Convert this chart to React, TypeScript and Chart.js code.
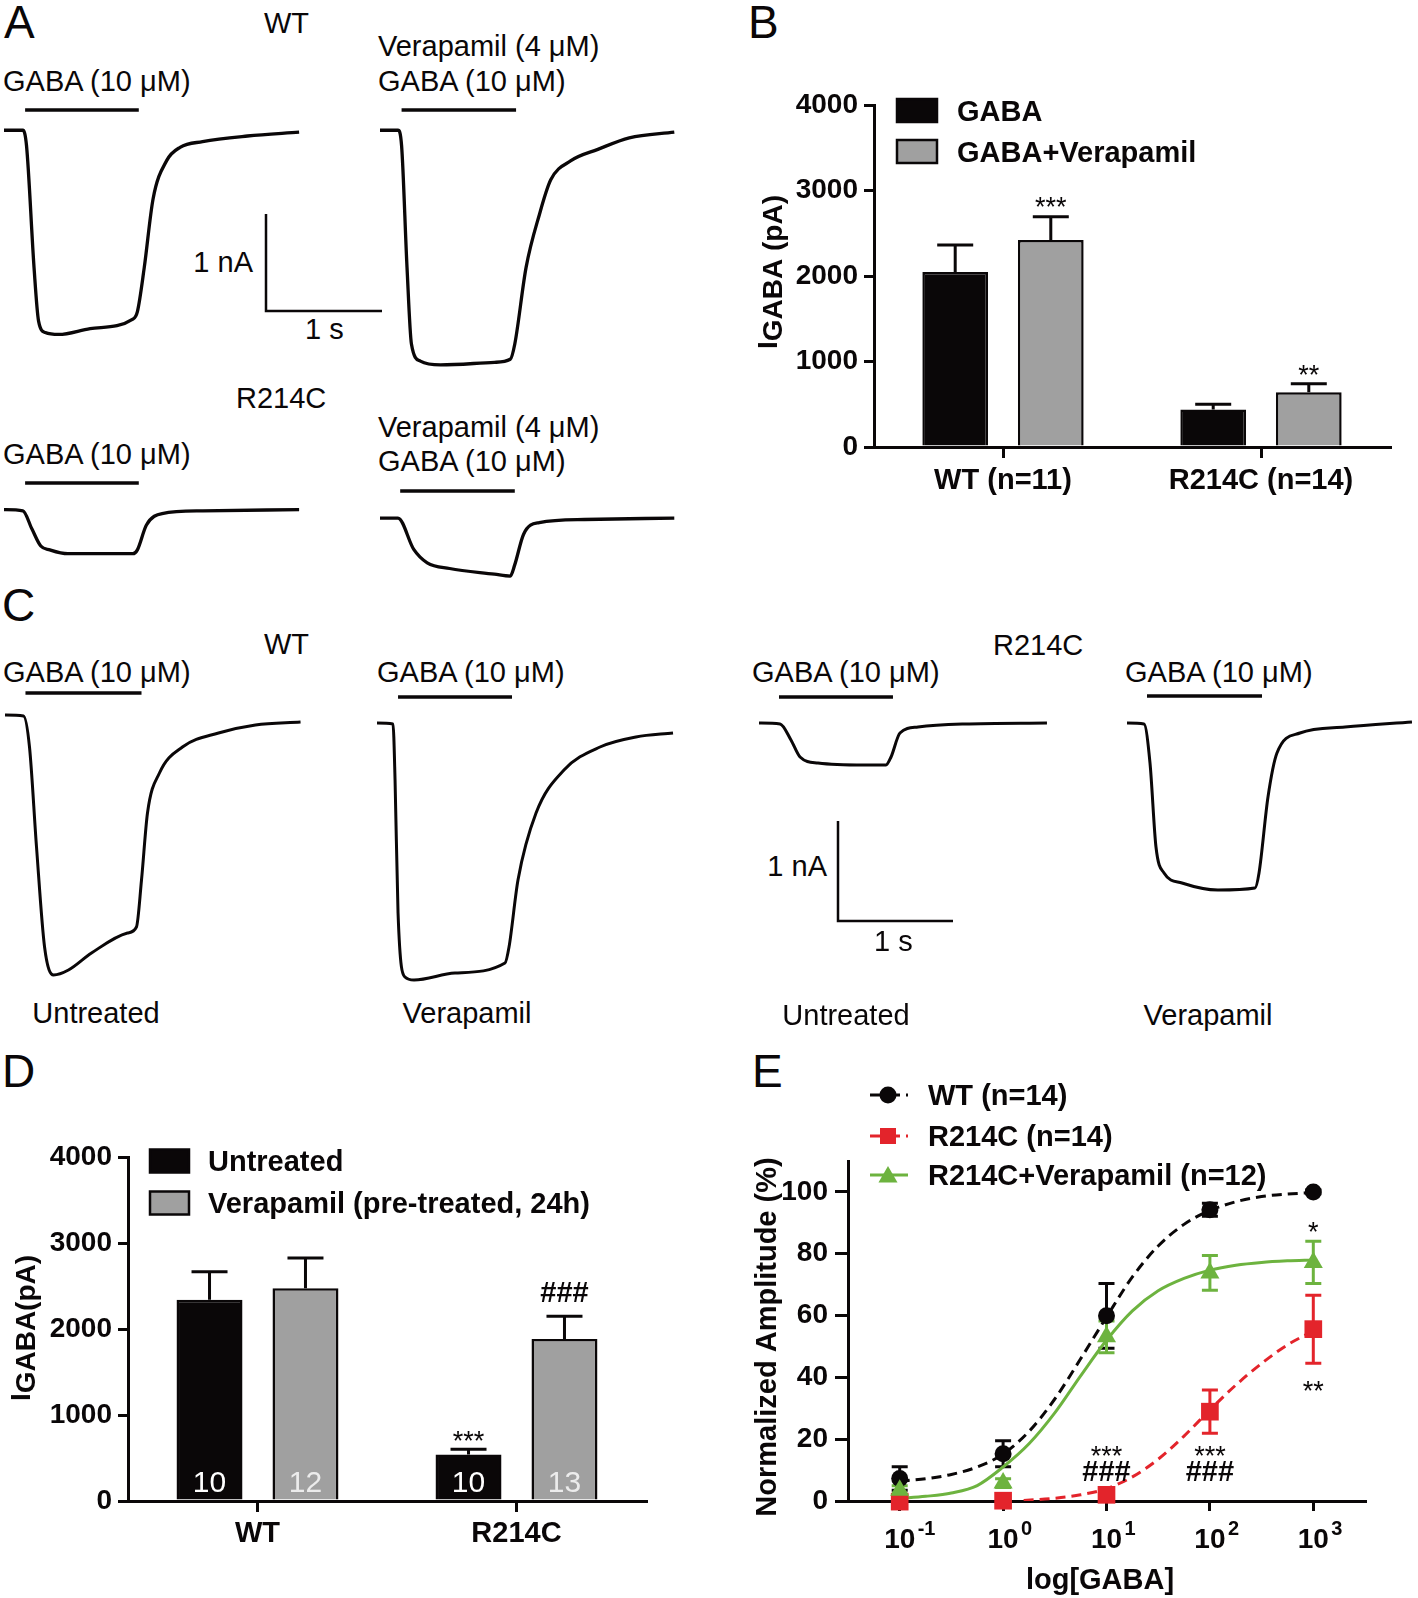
import React, { useEffect, useRef } from 'react';
import { Chart, registerables } from 'chart.js';

Chart.register(...registerables);

const FONT = "'Liberation Sans', Arial, Helvetica, sans-serif";
const INK = '#0a0708';
const GREY = '#a0a0a0';
const RED = '#e3242b';
const GREEN = '#6db33f';

// ================= Panels A / C: current traces (time in s, current in nA re. baseline) =================
const traceA1Time = [0, 0.163, 0.194, 0.259, 0.298, 0.356, 0.472, 0.743, 1.111, 1.15, 1.209, 1.285, 1.402, 1.518, 1.712, 2.099, 2.544];
const traceA1Current = [0, 0, -0.157, -1.416, -1.967, -2.085, -2.105, -2.045, -1.947, -1.869, -1.416, -0.708, -0.313, -0.176, -0.117, -0.059, -0.019];
const stimA1 = [0.182, 1.162];

const traceA2Time = [0, 0.155, 0.186, 0.233, 0.271, 0.348, 0.522, 0.988, 1.123, 1.162, 1.259, 1.375, 1.472, 1.646, 1.878, 2.149, 2.537];
const traceA2Current = [0, 0, -0.157, -1.416, -2.203, -2.38, -2.419, -2.392, -2.361, -2.203, -1.416, -0.865, -0.511, -0.314, -0.197, -0.078, -0.019];
const stimA2 = [0.186, 1.173];

const traceA3Time = [0, 0.163, 0.24, 0.317, 0.395, 0.55, 1.111, 1.15, 1.228, 1.363, 1.712, 2.544];
const traceA3Current = [0, -0.012, -0.197, -0.375, -0.414, -0.454, -0.454, -0.414, -0.158, -0.04, -0.012, 0];
const stimA3 = [0.182, 1.162];

const traceA4Time = [0, 0.155, 0.291, 0.407, 0.6, 0.986, 1.123, 1.162, 1.238, 1.373, 1.762, 2.537];
const traceA4Current = [0, 0, -0.323, -0.461, -0.52, -0.578, -0.598, -0.48, -0.166, -0.047, -0.015, 0];
const stimA4 = [0.174, 1.162];

const traceC1Time = [0, 0.161, 0.213, 0.274, 0.344, 0.422, 0.552, 0.752, 1.065, 1.143, 1.187, 1.239, 1.343, 1.543, 1.857, 2.178, 2.57];
const traceC1Current = [0, -0.01, -0.32, -1.32, -2.32, -2.6, -2.55, -2.38, -2.18, -2.12, -1.65, -0.98, -0.58, -0.32, -0.18, -0.1, -0.07];
const stimC1 = [0.178, 1.187];

const traceC2Time = [0, 0.139, 0.157, 0.183, 0.243, 0.322, 0.678, 1.113, 1.148, 1.226, 1.383, 1.626, 1.939, 2.252, 2.574];
const traceC2Current = [0, -0.01, -0.57, -1.9, -2.54, -2.57, -2.5, -2.4, -2.24, -1.57, -0.9, -0.47, -0.24, -0.14, -0.1];
const stimC2 = [0.183, 1.174];

const traceC3Time = [0, 0.183, 0.278, 0.357, 0.513, 0.913, 1.104, 1.148, 1.226, 1.383, 1.783, 2.504];
const traceC3Current = [0, -0.01, -0.17, -0.34, -0.4, -0.42, -0.42, -0.34, -0.1, -0.04, -0.01, 0];
const stimC3 = [0.174, 1.165];

const traceC4Time = [0, 0.148, 0.2, 0.252, 0.322, 0.478, 0.791, 1.113, 1.148, 1.226, 1.304, 1.504, 1.896, 2.478];
const traceC4Current = [0, -0.01, -0.4, -1.24, -1.5, -1.6, -1.67, -1.65, -1.5, -0.74, -0.3, -0.1, -0.04, 0.01];
const stimC4 = [0.174, 1.174];

// scale bar: 1 nA vertical, 1 s horizontal
const scaleBarTime = [0, 0, 1];
const scaleBarCurrent = [1, 0, 0];

// ================= Panel B =================
const groupsB = ['WT (n=11)', 'R214C (n=14)'];
const gabaB = [2047, 440];
const gabaErrB = [315, 60];
const gabaVeraB = [2420, 640];
const gabaVeraErrB = [272, 100];
const signifB = ['***', '**'];
const signifLevelB = [2890, 922];
const yTicksBar = [0, 1000, 2000, 3000, 4000];

// ================= Panel D =================
const groupsD = ['WT', 'R214C'];
const untreatedD = [2340, 542];
const untreatedErrD = [325, 59];
const pretreatedD = [2474, 1883];
const pretreatedErrD = [352, 266];
const nUntreatedD = ['10', '10'];
const nPretreatedD = ['12', '13'];
const signifUntreatedD = ['', '***'];
const signifUntreatedLevelD = [0, 784];
const signifPretreatedD = ['', '###'];
const signifPretreatedLevelD = [0, 2433];

// ================= Panel E =================
const gabaConc = [0.1, 1, 10, 100, 1000];
const wtMean = [7.3, 15.3, 59.9, 94.2, 100];
const wtSem = [3.8, 4.2, 10.5, 2.1, 0.6];
const r214cMean = [-0.2, 0.1, 2.0, 28.9, 55.6];
const r214cSem = [0.4, 0.4, 0.8, 7.0, 11];
const veraMean = [3.5, 5.8, 53.1, 73.8, 77.2];
const veraSem = [1.4, 1.4, 5.1, 5.6, 6.8];

const fitConcWT = [0.1, 0.178, 0.316, 0.562, 1, 1.78, 3.16, 5.62, 10, 17.8, 31.6, 56.2, 100, 178, 316, 562, 1000];
const fitWT = [6.4, 7.2, 8.6, 11, 15.2, 22.5, 33, 46, 59.5, 72.5, 82.5, 89.5, 94, 96.8, 98.5, 99.3, 99.8];
const fitConcVera = [0.1, 0.178, 0.316, 0.562, 1, 1.78, 3.16, 5.62, 10, 17.8, 31.6, 56.2, 100, 178, 316, 562, 1000];
const fitVera = [0.8, 1.5, 2.6, 5, 11, 18.5, 28.5, 40.5, 52, 61.5, 68, 72, 74.7, 76.3, 77.2, 77.7, 78];
const fitConcR214C = [1.58, 3.16, 5.62, 10, 17.8, 31.6, 56.2, 100, 178, 316, 562, 1000];
const fitR214C = [0.2, 0.9, 2, 4, 7.8, 13.5, 21, 29.5, 37.5, 44.5, 50.5, 55];

const yTicksE = [0, 20, 40, 60, 80, 100];
const signifTextE = ['*', '**', '***', '###', '***', '###'];
const signifConcE = [1000, 1000, 10, 10, 100, 100];
const signifLevelE = [89.2, 37.8, 16.8, 9.8, 16.8, 9.8];

// ================= helpers =================
function drawText(ctx: any, s: string, x: number, y: number, size: number, weight: string, align: string, color: string) {
  ctx.save();
  ctx.font = `${weight} ${size}px ${FONT}`;
  ctx.fillStyle = color;
  ctx.textAlign = align;
  ctx.textBaseline = 'alphabetic';
  ctx.fillText(s, x, y);
  ctx.restore();
}

function drawMark(ctx: any, s: string, x: number, yCenter: number) {
  const hash = s.startsWith('#');
  const size = hash ? 29 : 27;
  const base = hash ? yCenter + 0.36 * size : yCenter + 0.6 * size;
  drawText(ctx, s, x, base, size, hash ? 'bold' : 'normal', 'center', INK);
}

function drawRotatedTitle(ctx: any, cx: number, cy: number, parts: [string, number][], size: number) {
  ctx.save();
  ctx.translate(cx, cy);
  ctx.rotate(-Math.PI / 2);
  ctx.font = `bold ${size}px ${FONT}`;
  ctx.fillStyle = INK;
  ctx.textAlign = 'left';
  ctx.textBaseline = 'alphabetic';
  const widths = parts.map((p) => ctx.measureText(p[0]).width);
  const total = widths.reduce((a, b) => a + b, 0);
  let x = -total / 2;
  parts.forEach((p, k) => {
    ctx.fillText(p[0], x, p[1]);
    x += widths[k];
  });
  ctx.restore();
}

function drawMarker(ctx: any, style: string, x: number, y: number, r: number, color: string) {
  ctx.save();
  ctx.fillStyle = color;
  ctx.beginPath();
  if (style === 'circle') {
    ctx.arc(x, y, r, 0, Math.PI * 2);
  } else if (style === 'rect') {
    const h = r * Math.SQRT1_2;
    ctx.rect(x - h, y - h, 2 * h, 2 * h);
  } else {
    ctx.moveTo(x, y - r);
    ctx.lineTo(x + 0.866 * r, y + 0.5 * r);
    ctx.lineTo(x - 0.866 * r, y + 0.5 * r);
    ctx.closePath();
  }
  ctx.fill();
  ctx.restore();
}

function Label({ x, y, s = 29, w = 400, a = 'left', children }: any) {
  const style: any = {
    position: 'absolute',
    left: x,
    top: y - 0.8465 * s,
    fontFamily: FONT,
    fontSize: s,
    fontWeight: w,
    lineHeight: `${s}px`,
    whiteSpace: 'nowrap',
    color: INK,
    transform: a === 'center' ? 'translateX(-50%)' : a === 'right' ? 'translateX(-100%)' : undefined,
  };
  return <div style={style}>{children}</div>;
}

// ================= trace chart =================
function TraceChart({ time, current, stim, stimLevel = 0, x0, y0, pxS, pxNA, lw = 3.3, smooth = true }: any) {
  const ref = useRef<HTMLCanvasElement>(null);
  const pad = 8;
  const tMax = Math.max(...time);
  const iMin = Math.min(...current, 0);
  const iMax = Math.max(...current, stim ? stimLevel : 0, 0);
  const w = Math.ceil(tMax * pxS + 2 * pad);
  const h = Math.ceil((iMax - iMin) * pxNA + 2 * pad);
  const left = x0 - pad;
  const top = y0 - iMax * pxNA - pad;
  useEffect(() => {
    const datasets: any[] = [
      {
        data: time.map((t: number, k: number) => ({ x: t, y: current[k] })),
        borderColor: INK,
        borderWidth: lw,
        pointRadius: 0,
        cubicInterpolationMode: smooth ? 'monotone' : 'default',
        tension: 0,
        borderJoinStyle: 'miter',
        fill: false,
      },
    ];
    if (stim) {
      datasets.push({
        data: [{ x: stim[0], y: stimLevel }, { x: stim[1], y: stimLevel }],
        borderColor: INK,
        borderWidth: 3.6,
        pointRadius: 0,
        fill: false,
      });
    }
    const xMin = -pad / pxS;
    const yMax = iMax + pad / pxNA;
    const chart = new Chart(ref.current as any, {
      type: 'line',
      data: { datasets },
      options: {
        responsive: false,
        animation: false,
        devicePixelRatio: 1,
        layout: { padding: 0 },
        plugins: { legend: { display: false }, tooltip: { enabled: false } },
        scales: {
          x: { type: 'linear', display: false, min: xMin, max: xMin + w / pxS },
          y: { type: 'linear', display: false, min: yMax - h / pxNA, max: yMax },
        },
      } as any,
    });
    return () => chart.destroy();
  }, []);
  return <canvas ref={ref} width={w} height={h} style={{ position: 'absolute', left, top, width: w, height: h }} />;
}

// ================= bar chart builder =================
function BarChart({ cfg }: any) {
  const ref = useRef<HTMLCanvasElement>(null);
  useEffect(() => {
    const decor = {
      id: 'decor',
      afterDatasetsDraw(chart: any) {
        const ctx = chart.ctx;
        const y = chart.scales.y;
        cfg.series.forEach((s: any, di: number) => {
          const meta = chart.getDatasetMeta(di);
          meta.data.forEach((bar: any, i: number) => {
            const yTop = y.getPixelForValue(s.data[i]);
            const yErr = y.getPixelForValue(s.data[i] + s.err[i]);
            ctx.save();
            ctx.strokeStyle = INK;
            ctx.lineWidth = 3;
            ctx.beginPath();
            ctx.moveTo(bar.x, yTop);
            ctx.lineTo(bar.x, yErr);
            ctx.moveTo(bar.x - 18, yErr);
            ctx.lineTo(bar.x + 18, yErr);
            ctx.stroke();
            ctx.restore();
            if (s.signif && s.signif[i]) drawMark(ctx, s.signif[i], bar.x, y.getPixelForValue(s.signifLevel[i]));
            if (s.inner && s.inner[i]) {
              const yc = y.getPixelForValue(cfg.innerLevel);
              drawText(ctx, s.inner[i], bar.x, yc + 0.358 * 30, 30, 'normal', 'center', s.innerColor);
            }
          });
        });
        const lg = cfg.legend;
        cfg.series.forEach((s: any, k: number) => {
          const cy = lg.rows[k];
          ctx.save();
          ctx.fillStyle = s.color;
          ctx.fillRect(lg.boxX, cy - lg.boxH / 2, lg.boxW, lg.boxH);
          ctx.strokeStyle = INK;
          ctx.lineWidth = 2.5;
          ctx.strokeRect(lg.boxX, cy - lg.boxH / 2, lg.boxW, lg.boxH);
          ctx.restore();
          drawText(ctx, s.label, lg.textX, cy + 0.358 * 29, 29, 'bold', 'left', INK);
        });
        drawRotatedTitle(ctx, cfg.title.x, cfg.title.y, cfg.title.parts, 28);
      },
    };
    const chart = new Chart(ref.current as any, {
      type: 'bar',
      data: {
        labels: cfg.labels,
        datasets: cfg.series.map((s: any) => ({
          label: s.label,
          data: s.data,
          backgroundColor: s.color,
          borderColor: INK,
          borderWidth: 2.5,
          borderSkipped: 'start',
          categoryPercentage: 0.741,
          barPercentage: 0.6875,
        })),
      },
      options: {
        responsive: false,
        animation: false,
        devicePixelRatio: 1,
        layout: { padding: cfg.padding },
        plugins: { legend: { display: false }, tooltip: { enabled: false }, title: { display: false } },
        scales: {
          x: {
            z: 1,
            grid: { offset: false, drawOnChartArea: false, drawTicks: true, tickLength: 11, color: INK, lineWidth: 3 },
            border: { color: INK, width: 3 },
            ticks: { color: INK, font: { family: FONT, size: 29, weight: 'bold' }, padding: cfg.xPad, maxRotation: 0, autoSkip: false },
            afterFit: (s: any) => { s.height = cfg.xHeight; },
          },
          y: {
            z: 1,
            min: 0,
            max: 4000,
            afterBuildTicks: (s: any) => { s.ticks = yTicksBar.map((v) => ({ value: v })); },
            grid: { drawOnChartArea: false, drawTicks: true, tickLength: 10, color: INK, lineWidth: 3 },
            border: { color: INK, width: 3 },
            ticks: { color: INK, font: { family: FONT, size: 28, weight: 'bold' }, padding: 6, callback: (v: any) => String(v) },
            afterFit: (s: any) => { s.width = cfg.yWidth; },
          },
        },
      } as any,
      plugins: [decor],
    });
    return () => chart.destroy();
  }, []);
  return (
    <canvas ref={ref} width={cfg.w} height={cfg.h}
      style={{ position: 'absolute', left: cfg.left, top: cfg.top, width: cfg.w, height: cfg.h }} />
  );
}

const cfgB = {
  left: 720, top: 0, w: 698, h: 530,
  padding: { left: 0, right: 28, top: 105, bottom: 0 },
  yWidth: 154, xHeight: 83, xPad: 6,
  labels: groupsB,
  series: [
    { label: 'GABA', data: gabaB, err: gabaErrB, color: INK },
    { label: 'GABA+Verapamil', data: gabaVeraB, err: gabaVeraErrB, color: GREY, signif: signifB, signifLevel: signifLevelB },
  ],
  legend: { boxX: 177, boxW: 40, boxH: 23, textX: 237, rows: [110.5, 151.5] },
  title: { x: 62, y: 272, parts: [['I', -5], ['GABA (pA)', 0]] },
  innerLevel: 0,
};

const cfgD = {
  left: 0, top: 1040, w: 700, h: 558,
  padding: { left: 0, right: 54, top: 117, bottom: 0 },
  yWidth: 128, xHeight: 97, xPad: 5,
  labels: groupsD,
  series: [
    { label: 'Untreated', data: untreatedD, err: untreatedErrD, color: INK, inner: nUntreatedD, innerColor: '#ffffff', signif: signifUntreatedD, signifLevel: signifUntreatedLevelD },
    { label: 'Verapamil (pre-treated, 24h)', data: pretreatedD, err: pretreatedErrD, color: GREY, inner: nPretreatedD, innerColor: '#ececec', signif: signifPretreatedD, signifLevel: signifPretreatedLevelD },
  ],
  legend: { boxX: 150, boxW: 39, boxH: 23, textX: 208, rows: [121, 163] },
  title: { x: 35, y: 288, parts: [['I', -5], ['GABA(pA)', 0]] },
  innerLevel: 233,
};

// ================= dose-response chart =================
function DoseResponse() {
  const ref = useRef<HTMLCanvasElement>(null);
  useEffect(() => {
    const series = [
      { label: 'WT (n=14)', mean: wtMean, sem: wtSem, color: INK, style: 'circle', r: 8.5, dash: [10, 6] },
      { label: 'R214C (n=14)', mean: r214cMean, sem: r214cSem, color: RED, style: 'rect', r: 12.5, dash: [10, 6] },
      { label: 'R214C+Verapamil (n=12)', mean: veraMean, sem: veraSem, color: GREEN, style: 'triangle', r: 11, dash: [] },
    ];
    const decor = {
      id: 'decorE',
      beforeDatasetsDraw(chart: any) {
        const ctx = chart.ctx;
        const xs = chart.scales.x;
        const ys = chart.scales.y;
        series.forEach((s) => {
          gabaConc.forEach((c, i) => {
            const px = xs.getPixelForValue(c);
            const hi = ys.getPixelForValue(s.mean[i] + s.sem[i]);
            const lo = ys.getPixelForValue(s.mean[i] - s.sem[i]);
            ctx.save();
            ctx.strokeStyle = s.color;
            ctx.lineWidth = 3;
            ctx.beginPath();
            ctx.moveTo(px, hi);
            ctx.lineTo(px, lo);
            ctx.moveTo(px - 8, hi);
            ctx.lineTo(px + 8, hi);
            ctx.moveTo(px - 8, lo);
            ctx.lineTo(px + 8, lo);
            ctx.stroke();
            ctx.restore();
          });
        });
      },
      afterDraw(chart: any) {
        const ctx = chart.ctx;
        const xs = chart.scales.x;
        const ys = chart.scales.y;
        // x tick labels 10^n
        gabaConc.forEach((c) => {
          const px = xs.getPixelForValue(c);
          drawText(ctx, '10', px, 508, 28, 'bold', 'center', INK);
          drawText(ctx, String(Math.round(Math.log10(c))), px + 18, 495, 20, 'bold', 'left', INK);
        });
        drawText(ctx, 'log[GABA]', 400, 549, 29, 'bold', 'center', INK);
        drawRotatedTitle(ctx, 76, 297, [['Normalized Amplitude (%)', 0]], 29);
        // legend
        const rows = [55, 96, 135];
        series.forEach((s, k) => {
          const cy = rows[k];
          ctx.save();
          ctx.strokeStyle = s.color;
          ctx.lineWidth = 3;
          ctx.setLineDash(s.dash.length ? [12, 6] : []);
          ctx.beginPath();
          ctx.moveTo(170, cy);
          ctx.lineTo(208, cy);
          ctx.stroke();
          ctx.restore();
          drawMarker(ctx, s.style, 188, cy + (s.style === 'triangle' ? 2 : 0), s.style === 'rect' ? 11.3 : s.r, s.color);
          drawText(ctx, s.label, 228, cy + 0.358 * 29, 29, 'bold', 'left', INK);
        });
        // significance marks
        signifTextE.forEach((t, i) => {
          drawMark(ctx, t, xs.getPixelForValue(signifConcE[i]), ys.getPixelForValue(signifLevelE[i]));
        });
      },
    };
    const pts = (xv: number[], yv: number[]) => xv.map((x, i) => ({ x, y: yv[i] }));
    const chart = new Chart(ref.current as any, {
      type: 'line',
      data: {
        datasets: [
          { label: 'WT fit', data: pts(fitConcWT, fitWT), borderColor: INK, borderWidth: 3, borderDash: [10, 6], pointRadius: 0, cubicInterpolationMode: 'monotone', order: 5 },
          { label: 'R214C fit', data: pts(fitConcR214C, fitR214C), borderColor: RED, borderWidth: 3, borderDash: [10, 6], pointRadius: 0, cubicInterpolationMode: 'monotone', order: 4 },
          { label: 'R214C+Verapamil fit', data: pts(fitConcVera, fitVera), borderColor: GREEN, borderWidth: 3, pointRadius: 0, cubicInterpolationMode: 'monotone', order: 3 },
          { label: series[0].label, data: pts(gabaConc, wtMean), showLine: false, pointStyle: 'circle', pointRadius: 8.5, pointBackgroundColor: INK, pointBorderWidth: 0, clip: false, order: 2 },
          { label: series[1].label, data: pts(gabaConc, r214cMean), showLine: false, pointStyle: 'rect', pointRadius: 12.5, pointBackgroundColor: RED, pointBorderWidth: 0, clip: false, order: 1 },
          { label: series[2].label, data: pts(gabaConc, veraMean), showLine: false, pointStyle: 'triangle', pointRadius: 11, pointBackgroundColor: GREEN, pointBorderWidth: 0, clip: false, order: 0 },
        ],
      },
      options: {
        responsive: false,
        animation: false,
        devicePixelRatio: 1,
        layout: { padding: { left: 0, right: 53, top: 121, bottom: 0 } },
        plugins: { legend: { display: false }, tooltip: { enabled: false } },
        scales: {
          x: {
            type: 'logarithmic',
            min: Math.pow(10, -1.5),
            max: Math.pow(10, 3.5),
            afterBuildTicks: (s: any) => { s.ticks = gabaConc.map((v) => ({ value: v })); },
            grid: { drawOnChartArea: false, drawTicks: true, tickLength: 10, color: INK, lineWidth: 3 },
            border: { color: INK, width: 3 },
            ticks: { display: false },
            afterFit: (s: any) => { s.height = 97; },
          },
          y: {
            type: 'linear',
            min: 0,
            max: 110,
            afterBuildTicks: (s: any) => { s.ticks = yTicksE.map((v) => ({ value: v })); },
            grid: { drawOnChartArea: false, drawTicks: true, tickLength: 13, color: INK, lineWidth: 3 },
            border: { color: INK, width: 3 },
            ticks: { color: INK, font: { family: FONT, size: 28, weight: 'bold' }, padding: 7, callback: (v: any) => String(v) },
            afterFit: (s: any) => { s.width = 148; },
          },
        },
      } as any,
      plugins: [decor],
    });
    return () => chart.destroy();
  }, []);
  return <canvas ref={ref} width={718} height={558} style={{ position: 'absolute', left: 700, top: 1040, width: 718, height: 558 }} />;
}

export default function App() {
  return (
    <div style={{ position: 'absolute', left: 0, top: 0, width: 1418, height: 1598, background: '#fff', overflow: 'hidden' }}>
      {/* ---------- Panel A ---------- */}
      <Label x={4} y={38} s={46}>A</Label>
      <Label x={264} y={34}>WT</Label>
      <Label x={3} y={92}>GABA (10 μM)</Label>
      <Label x={378} y={57}>Verapamil (4 μM)</Label>
      <Label x={378} y={92}>GABA (10 μM)</Label>
      <Label x={253} y={273} a="right">1 nA</Label>
      <Label x={305} y={340}>1 s</Label>
      <Label x={236} y={409}>R214C</Label>
      <Label x={3} y={465}>GABA (10 μM)</Label>
      <Label x={378} y={438}>Verapamil (4 μM)</Label>
      <Label x={378} y={472}>GABA (10 μM)</Label>
      <TraceChart time={traceA1Time} current={traceA1Current} stim={stimA1} stimLevel={0.209} x0={3.6} y0={129.8} pxS={116} pxNA={97} />
      <TraceChart time={traceA2Time} current={traceA2Current} stim={stimA2} stimLevel={0.209} x0={379.6} y0={129.8} pxS={116} pxNA={97} />
      <TraceChart time={traceA3Time} current={traceA3Current} stim={stimA3} stimLevel={0.275} x0={3.6} y0={509.5} pxS={116} pxNA={97} />
      <TraceChart time={traceA4Time} current={traceA4Current} stim={stimA4} stimLevel={0.279} x0={379.6} y0={518.3} pxS={116} pxNA={97} />
      <TraceChart time={scaleBarTime} current={scaleBarCurrent} x0={266.4} y0={311} pxS={116} pxNA={97} lw={2.5} smooth={false} />

      {/* ---------- Panel B ---------- */}
      <Label x={748} y={38} s={46}>B</Label>
      <BarChart cfg={cfgB} />

      {/* ---------- Panel C ---------- */}
      <Label x={2} y={621} s={46}>C</Label>
      <Label x={264} y={655}>WT</Label>
      <Label x={993} y={656}>R214C</Label>
      <Label x={3} y={683}>GABA (10 μM)</Label>
      <Label x={377} y={683}>GABA (10 μM)</Label>
      <Label x={752} y={683}>GABA (10 μM)</Label>
      <Label x={1125} y={683}>GABA (10 μM)</Label>
      <TraceChart time={traceC1Time} current={traceC1Current} stim={stimC1} stimLevel={0.22} x0={4.5} y0={715} pxS={115} pxNA={100} lw={3} />
      <TraceChart time={traceC2Time} current={traceC2Current} stim={stimC2} stimLevel={0.26} x0={377} y0={723} pxS={115} pxNA={100} lw={3} />
      <TraceChart time={traceC3Time} current={traceC3Current} stim={stimC3} stimLevel={0.26} x0={759} y0={723} pxS={115} pxNA={100} lw={3} />
      <TraceChart time={traceC4Time} current={traceC4Current} stim={stimC4} stimLevel={0.27} x0={1127} y0={723} pxS={115} pxNA={100} lw={3} />
      <TraceChart time={scaleBarTime} current={scaleBarCurrent} x0={838.2} y0={920.7} pxS={115} pxNA={100} lw={2.5} smooth={false} />
      <Label x={827} y={877} a="right">1 nA</Label>
      <Label x={874} y={952}>1 s</Label>
      <Label x={96} y={1024} a="center">Untreated</Label>
      <Label x={467} y={1024} a="center">Verapamil</Label>
      <Label x={846} y={1026} a="center">Untreated</Label>
      <Label x={1208} y={1026} a="center">Verapamil</Label>

      {/* ---------- Panel D ---------- */}
      <Label x={2} y={1087} s={46}>D</Label>
      <BarChart cfg={cfgD} />

      {/* ---------- Panel E ---------- */}
      <Label x={752} y={1087} s={46}>E</Label>
      <DoseResponse />
    </div>
  );
}
